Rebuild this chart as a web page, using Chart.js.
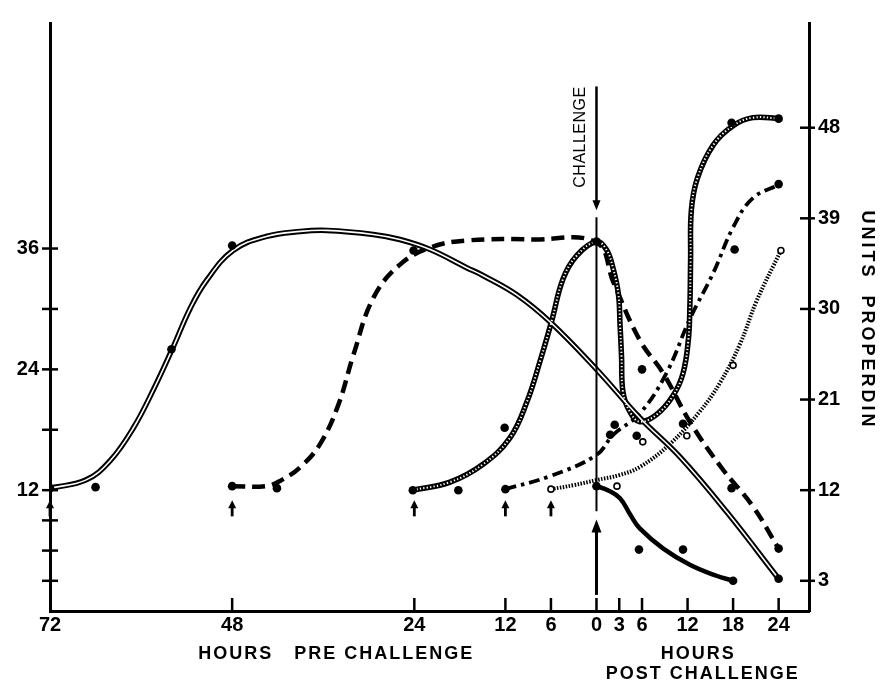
<!DOCTYPE html>
<html>
<head>
<meta charset="utf-8">
<script src="https://cdn.jsdelivr.net/npm/chart.js@4.4.1/dist/chart.umd.min.js"></script>
<style>
  body { margin: 0; background: #fff; }
</style>
</head>
<body>
<canvas id="properdinChart" width="881" height="683"></canvas>
<script>
// hours relative to challenge (negative = before challenge), values in units properdin
const xTicks = [-72, -48, -24, -12, -6, 0, 3, 6, 12, 18, 24];
const leftTicks = [3, 6, 9, 12, 18, 24, 30, 36];
const leftLabels = [12, 24, 36];
const rightTicks = [3, 12, 21, 30, 39, 48];

// injection times (small arrows)
const arrowHours = [-72, -48, -24, -12, -6];

// double line - started 72 h before
const hoursA = [-72, -67.3, -64.1, -61, -58.3, -55.9, -53.5, -51.4, -47.9, -43.5, -39, -35.5, -29.4, -25.9, -21.9, -17.1, -14.9, -10.5, -6.1, 0, 5.7, 11, 17.2, 24];
const unitsA = [12.2, 13.0, 14.9, 18.2, 22.1, 26.0, 30.1, 32.8, 35.8, 37.2, 37.7, 37.8, 37.4, 36.9, 35.9, 34.1, 33.3, 31.4, 28.7, 24.0, 19.2, 15.3, 9.8, 3.2];

// heavy dashed - started 48 h before
const hoursB = [-48, -43.5, -41.5, -39, -36.4, -34, -32, -29.4, -25.9, -21.9, -17.1, -8.3, 0, 2.2, 5.7, 8.8, 12.3, 16.5, 20.6, 24];
const unitsB = [12.4, 12.4, 13.0, 14.3, 16.6, 20.5, 25.5, 31.1, 34.4, 36.1, 36.8, 36.9, 36.6, 32.7, 26.9, 23.6, 18.8, 14.2, 10.4, 6.2];

// beaded line - started 24 h before
const hoursC = [-24.2, -19.3, -14.9, -11.4, -9.2, -7.4, -5.9, -4.4, -2.6, 0, 1.3, 2.2, 2.9, 3.1, 3.3, 3.5, 4.4, 5.7, 7.9, 10.1, 11.4, 12.1, 12.3, 12.4, 12.5, 13.3, 15.4, 18, 20.6, 24.2];
const unitsC = [12.0, 12.8, 14.6, 17.2, 20.7, 24.9, 28.8, 33.0, 35.3, 36.7, 35.9, 34.0, 31.4, 28.5, 25.3, 21.7, 19.8, 18.8, 19.5, 21.4, 23.6, 26.9, 30.1, 34.9, 39.8, 43.0, 46.3, 48.2, 49.0, 48.9];

// dash-dot - started 12 h before
const hoursD = [-12, -6.1, 0, 2.2, 5.7, 9.2, 12.3, 15.4, 18, 20.6, 24.2];
const unitsD = [12.1, 13.4, 15.5, 17.5, 19.6, 23.6, 29.0, 33.6, 38.1, 41.0, 42.4];

// dotted - started 6 h before
const hoursE = [-6, -3, 0, 3, 5.7, 9.7, 13.6, 16.3, 18.9, 21.1, 24.3];
const unitsE = [12.1, 12.5, 13.0, 13.5, 14.3, 16.6, 19.8, 22.7, 26.5, 30.8, 35.8];

// solid - started at challenge
const hoursF = [0, 1.5, 3.1, 4.5, 5.7, 8.8, 12.3, 15.8, 18];
const unitsF = [12.4, 12.0, 11.2, 9.5, 8.2, 6.2, 4.6, 3.5, 3.0];

// observed points
const filledHours = [-72, -66, -56, -48, -48, -42.1, -24.1, -24.2, -18.2, -12.1, -12, 0, 0, 1.8, 2.4, 5.3, 6, 5.6, 11.4, 11.4, 17.8, 18, 18.2, 17.8, 24, 24, 24, 24];
const filledUnits = [12.2, 12.3, 26, 36.3, 12.4, 12.2, 35.8, 12.0, 12.0, 18.2, 12.1, 36.7, 12.4, 17.5, 18.5, 17.4, 24, 6.1, 6.1, 18.6, 12.2, 3.0, 35.9, 48.5, 3.2, 6.2, 42.4, 48.9];
const openHours = [-6, 2.7, 6.1, 11.9, 18, 24.3];
const openUnits = [12.1, 12.4, 16.8, 17.4, 24.4, 35.8];

function pts(xs, ys) {
    return xs.map((h, i) => ({ x: h, y: ys[i] }));
}

const tickFont = { family: 'Liberation Sans', weight: 'bold', size: 20 };

// extra drawing: inner tick marks, arrows, challenge marker, axis titles
const decorations = {
    id: 'decorations',
    afterDraw(chart) {
        const { ctx, chartArea, scales } = chart;
        const x = scales.x, y = scales.y;
        ctx.save();
        ctx.strokeStyle = '#000';
        ctx.fillStyle = '#000';
        ctx.lineCap = 'butt';

        function seg(x1, y1, x2, y2, w) {
            ctx.lineWidth = w;
            ctx.beginPath();
            ctx.moveTo(x1, y1);
            ctx.lineTo(x2, y2);
            ctx.stroke();
        }
        function head(px, tipY, dir, w, h) {
            ctx.beginPath();
            ctx.moveTo(px, tipY);
            ctx.lineTo(px - w / 2, tipY - dir * h);
            ctx.lineTo(px + w / 2, tipY - dir * h);
            ctx.closePath();
            ctx.fill();
        }

        // tick marks
        leftTicks.forEach(v => {
            const py = y.getPixelForValue(v);
            seg(chartArea.left - 8, py, chartArea.left + 8, py, 2.5);
        });
        rightTicks.forEach(v => {
            const py = y.getPixelForValue(v);
            seg(chartArea.right - 9, py, chartArea.right + 6, py, 2.5);
        });
        xTicks.slice(1).forEach(h => {
            const px = x.getPixelForValue(h);
            seg(px, chartArea.bottom, px, chartArea.bottom - 13, 2.5);
        });

        // small up arrows under each start
        arrowHours.forEach(h => {
            const px = x.getPixelForValue(h);
            seg(px, y.getPixelForValue(9.4), px, y.getPixelForValue(10.4), 2.8);
            head(px, y.getPixelForValue(11.0), -1, 8, 8);
        });

        // challenge marker at hour 0
        const cx = x.getPixelForValue(0);
        seg(cx, y.getPixelForValue(52.1), cx, y.getPixelForValue(40.6), 2.5);
        head(cx, y.getPixelForValue(39.8), 1, 8, 10);
        seg(cx, y.getPixelForValue(39.1), cx, y.getPixelForValue(9.9), 2);
        seg(cx, y.getPixelForValue(1.6), cx, y.getPixelForValue(8.3), 3);
        head(cx, y.getPixelForValue(9.1), -1, 10, 13);

        ctx.font = '16px "Liberation Sans"';
        ctx.textAlign = 'center';
        ctx.textBaseline = 'middle';
        ctx.save();
        ctx.translate(cx - 16, 137);
        ctx.rotate(-Math.PI / 2);
        ctx.letterSpacing = '0.5px';
        ctx.fillText('CHALLENGE', 0, 0);
        ctx.restore();

        // axis titles
        ctx.font = 'bold 18px "Liberation Sans"';
        ctx.letterSpacing = '2px';
        ctx.textBaseline = 'alphabetic';
        ctx.fillText('HOURS   PRE CHALLENGE', x.getPixelForValue(-34.3), 659);
        ctx.fillText('HOURS', x.getPixelForValue(13.4), 659);
        ctx.fillText('POST CHALLENGE', x.getPixelForValue(14.0), 679);

        ctx.save();
        ctx.translate(867, 320);
        ctx.rotate(Math.PI / 2);
        ctx.letterSpacing = '3px';
        ctx.textBaseline = 'middle';
        ctx.fillText('UNITS  PROPERDIN', 0, 0);
        ctx.restore();

        ctx.restore();
    }
};

function curve(data, width, dash, order, color) {
    return {
        data: data,
        borderColor: color || '#000',
        borderWidth: width,
        borderDash: dash || [],
        borderCapStyle: 'butt',
        borderJoinStyle: 'round',
        pointRadius: 0,
        tension: 0.4,
        fill: false,
        order: order
    };
}

const ctx = document.getElementById('properdinChart').getContext('2d');
new Chart(ctx, {
    type: 'line',
    data: {
        datasets: [
            // double line: black body + white core
            curve(pts(hoursA, unitsA), 5.5, [], 3),
            curve(pts(hoursA, unitsA), 1.6, [], 2, '#fff'),
            curve(pts(hoursB, unitsB), 4.5, [13, 7], 3),
            // beaded line: black body with white beads
            curve(pts(hoursC, unitsC), 5.5, [], 3),
            curve(pts(hoursC, unitsC), 2, [1.3, 2.2], 2, '#fff'),
            curve(pts(hoursD, unitsD), 3.8, [11, 5, 3.5, 5], 3),
            curve(pts(hoursE, unitsE), 4, [1.5, 1.5], 3),
            curve(pts(hoursF, unitsF), 4.5, [], 3),
            {
                data: pts(filledHours, filledUnits),
                showLine: false,
                pointRadius: 4.3,
                pointBackgroundColor: '#000',
                pointBorderColor: '#000',
                pointBorderWidth: 0,
                order: 1
            },
            {
                data: pts(openHours, openUnits),
                showLine: false,
                pointRadius: 3,
                pointBackgroundColor: '#fff',
                pointBorderColor: '#000',
                pointBorderWidth: 1.6,
                order: 0
            }
        ]
    },
    options: {
        responsive: false,
        animation: false,
        layout: { padding: { top: 8, left: 0, right: 0, bottom: 0 } },
        plugins: {
            legend: { display: false },
            tooltip: { enabled: false }
        },
        scales: {
            x: {
                type: 'linear',
                min: -72,
                max: 28,
                afterBuildTicks: s => { s.ticks = xTicks.map(v => ({ value: v })); },
                afterFit: s => { s.height = 72; },
                grid: { display: false, drawTicks: false },
                border: { display: true, color: '#000', width: 3 },
                ticks: {
                    autoSkip: false,
                    maxRotation: 0,
                    padding: 2,
                    color: '#000',
                    font: tickFont,
                    callback: v => String(Math.abs(v))
                }
            },
            y: {
                position: 'left',
                min: 0,
                max: 58.4,
                afterBuildTicks: s => { s.ticks = leftTicks.map(v => ({ value: v })); },
                afterFit: s => { s.width = 50; },
                grid: { display: false, drawTicks: false },
                border: { display: true, color: '#000', width: 3 },
                ticks: {
                    autoSkip: false,
                    padding: 11,
                    color: '#000',
                    font: tickFont,
                    callback: v => leftLabels.includes(v) ? String(v) : ''
                }
            },
            y2: {
                position: 'right',
                min: 0,
                max: 58.4,
                afterBuildTicks: s => { s.ticks = rightTicks.map(v => ({ value: v })); },
                afterFit: s => { s.width = 72; },
                grid: { display: false, drawTicks: false },
                border: { display: true, color: '#000', width: 3 },
                ticks: {
                    autoSkip: false,
                    padding: 9,
                    color: '#000',
                    font: tickFont,
                    callback: v => String(v)
                }
            }
        }
    },
    plugins: [decorations]
});
</script>
</body>
</html>
